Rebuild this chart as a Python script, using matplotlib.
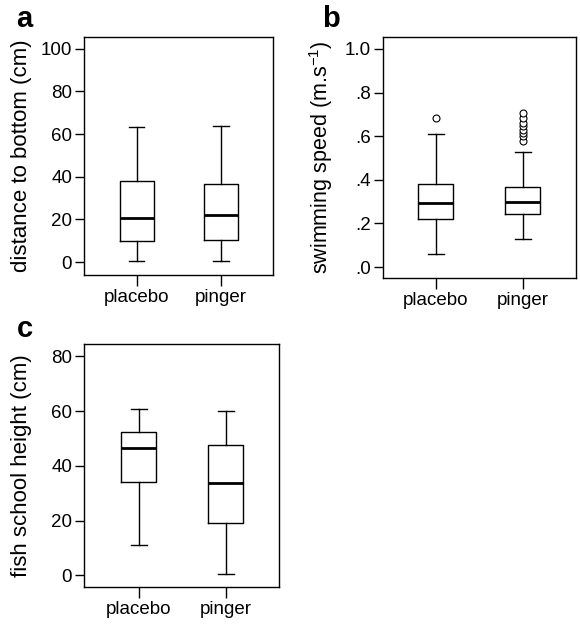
import matplotlib
matplotlib.use("Agg")
import matplotlib.pyplot as plt

plt.rcParams['font.family'] = ['Liberation Sans', 'DejaVu Sans']
plt.rcParams['mathtext.fontset'] = 'custom'
plt.rcParams['mathtext.rm'] = 'Liberation Sans'

groups = ["placebo", "pinger"]

# panel a: distance to bottom (cm)  -> whislo, q1, med, q3, whishi
dist_placebo = [0.6, 9.7, 20.5, 38.1, 63.2]
dist_pinger = [0.6, 10.5, 22.1, 36.5, 63.8]
dist_ticks = [0, 20, 40, 60, 80, 100]

# panel b: swimming speed (m/s)
speed_placebo = [0.061, 0.220, 0.294, 0.379, 0.612]
speed_pinger = [0.127, 0.245, 0.300, 0.368, 0.527]
speed_placebo_out = [0.683]
speed_pinger_out = [0.58, 0.60, 0.615, 0.63, 0.645, 0.66, 0.685, 0.705]
speed_ticks = [0.0, 0.2, 0.4, 0.6, 0.8, 1.0]
speed_ticklabels = [".0", ".2", ".4", ".6", ".8", "1.0"]

# panel c: fish school height (cm)
height_placebo = [11.1, 34.1, 46.5, 52.4, 60.7]
height_pinger = [0.6, 19.2, 33.8, 47.6, 60.2]
height_ticks = [0, 20, 40, 60, 80]


def make_stats(vals, fliers=None):
    lo, q1, med, q3, hi = vals
    return {"whislo": lo, "q1": q1, "med": med, "q3": q3, "whishi": hi,
            "fliers": fliers if fliers else []}


def draw_panel(ax, stats, ylim, ticks, ticklabels, ylabel, label_x, xlim,
               label_size=16):
    ax.bxp(stats, positions=[1, 2], widths=0.4, showfliers=True,
           boxprops=dict(color="black", linewidth=1.0),
           whiskerprops=dict(color="black", linewidth=1.0),
           capprops=dict(color="black", linewidth=1.0),
           medianprops=dict(color="black", linewidth=2.0),
           flierprops=dict(marker="o", markersize=5, markerfacecolor="white",
                           markeredgecolor="black", markeredgewidth=0.8),
           capwidths=0.18)
    ax.set_ylim(*ylim)
    ax.set_xlim(*xlim)
    ax.set_yticks(ticks)
    ax.set_yticklabels(ticklabels)
    ax.set_xticks([1, 2])
    ax.set_xticklabels(groups)
    ax.tick_params(axis="y", length=6.5, width=1.0, labelsize=13.5, pad=2)
    ax.tick_params(axis="x", length=8, width=1.0, labelsize=13.5, pad=2)
    ax.set_ylabel(ylabel, fontsize=label_size)
    ax.yaxis.set_label_coords(label_x, 0.5)
    for sp in ax.spines.values():
        sp.set_linewidth(1.0)


fig = plt.figure(figsize=(5.8, 6.25), dpi=100)

ax_a = fig.add_axes([0.1448, 0.56, 0.326, 0.381])
draw_panel(ax_a, [make_stats(dist_placebo), make_stats(dist_pinger)],
           (-6, 105.5), dist_ticks, [str(t) for t in dist_ticks],
           "distance to bottom (cm)", -0.275, (0.37, 2.62))

ax_b = fig.add_axes([0.660, 0.5552, 0.333, 0.3856])
draw_panel(ax_b, [make_stats(speed_placebo, speed_placebo_out),
                  make_stats(speed_pinger, speed_pinger_out)],
           (-0.05, 1.055), speed_ticks, speed_ticklabels,
           r"swimming speed (m.s$^{\mathregular{-1}}$)", -0.25, (0.39, 2.61),
           label_size=15.5)

ax_c = fig.add_axes([0.1448, 0.0608, 0.336, 0.389])
draw_panel(ax_c, [make_stats(height_placebo), make_stats(height_pinger)],
           (-4.3, 84.6), height_ticks, [str(t) for t in height_ticks],
           "fish school height (cm)", -0.267, (0.37, 2.61))

fig.text(0.027, 0.957, "a", fontsize=21, fontweight="bold", va="baseline")
fig.text(0.555, 0.957, "b", fontsize=21, fontweight="bold", va="baseline")
fig.text(0.029, 0.461, "c", fontsize=21, fontweight="bold", va="baseline")

fig.savefig("out.png", dpi=100)
